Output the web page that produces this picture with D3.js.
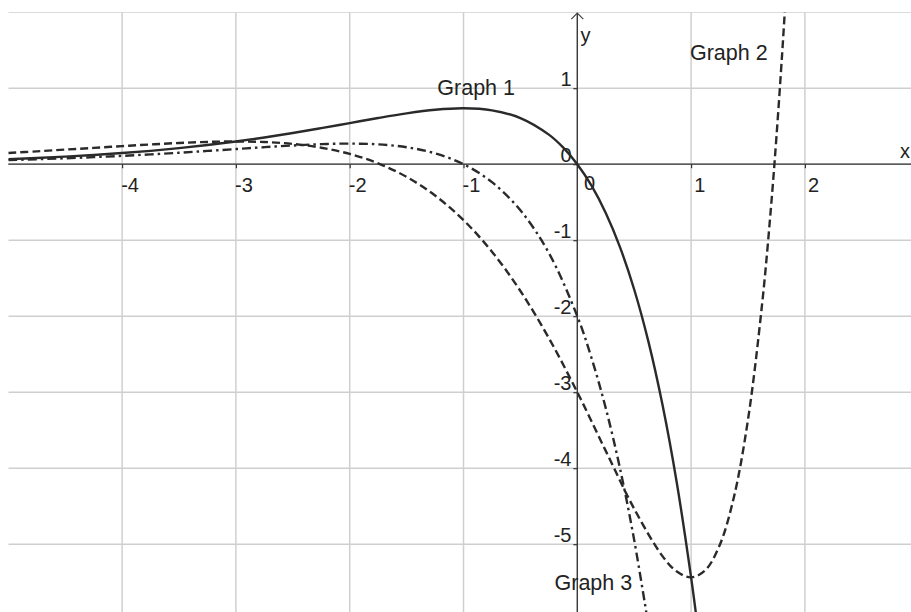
<!DOCTYPE html>
<html>
<head>
<meta charset="utf-8">
<script src="https://cdn.jsdelivr.net/npm/d3@7"></script>
<style>
  html, body { margin: 0; padding: 0; background: #fff; }
  svg { display: block; }
  text { font-family: "Liberation Sans", Arial, sans-serif; fill: #222; }
</style>
</head>
<body>
<svg id="chart" width="911" height="612"></svg>
<script>
// Sampled points of the three curves
const graph1X = [-5, -4.75, -4.5, -4.25, -4, -3.75, -3.5, -3.25, -3, -2.75, -2.5, -2.25, -2, -1.75, -1.5, -1.25, -1, -0.75, -0.5, -0.25, -0.125, 0, 0.125, 0.25, 0.375, 0.5, 0.625, 0.75, 0.875, 1, 1.05, 1.1];
const graph1Y = [0.067, 0.082, 0.100, 0.121, 0.147, 0.176, 0.211, 0.252, 0.299, 0.352, 0.410, 0.474, 0.541, 0.608, 0.669, 0.716, 0.736, 0.709, 0.607, 0.389, 0.221, 0, -0.283, -0.642, -1.091, -1.649, -2.335, -3.176, -4.198, -5.437, -6.001, -6.609];

const graph2X = [-5, -4.75, -4.5, -4.25, -4, -3.75, -3.5, -3.25, -3, -2.75, -2.5, -2.25, -2, -1.75, -1.5, -1.25, -1, -0.75, -0.5, -0.25, 0, 0.25, 0.5, 0.75, 0.875, 1, 1.125, 1.25, 1.375, 1.5, 1.625, 1.7, 1.75, 1.8, 1.825, 1.85];
const graph2Y = [0.148, 0.169, 0.192, 0.215, 0.238, 0.260, 0.279, 0.293, 0.299, 0.292, 0.267, 0.217, 0.135, 0.011, -0.167, -0.412, -0.736, -1.151, -1.668, -2.288, -3, -3.772, -4.534, -5.160, -5.360, -5.437, -5.342, -5.017, -4.388, -3.361, -1.825, -0.602, 0.360, 1.452, 2.051, 2.687];

const graph3X = [-5, -4.75, -4.5, -4.25, -4, -3.75, -3.5, -3.25, -3, -2.75, -2.5, -2.25, -2, -1.75, -1.5, -1.25, -1, -0.75, -0.5, -0.25, 0, 0.125, 0.25, 0.375, 0.5, 0.625];
const graph3Y = [0.054, 0.065, 0.078, 0.093, 0.110, 0.129, 0.151, 0.175, 0.199, 0.224, 0.246, 0.264, 0.271, 0.261, 0.223, 0.143, 0, -0.236, -0.607, -1.168, -2, -2.550, -3.210, -4.001, -4.946, -6.072];

// Axis tick values and curve labels
const xTickValues = [-4, -3, -2, -1, 0, 1, 2];
const yTickValues = [1, 0, -1, -2, -3, -4, -5];
const xGridValues = [-4, -3, -2, -1, 0, 1, 2];
const yGridValues = [2, 1, 0, -1, -2, -3, -4, -5];
const curveLabels = ["Graph 1", "Graph 2", "Graph 3"];
const curveLabelAt = [[-1.23, 0.91], [0.99, 1.37], [-0.2, -5.6]];

const W = 911, H = 612;
const svg = d3.select("#chart");

const x = d3.scaleLinear().domain([-5, 3]).range([8.3, 918.7]);
const y = d3.scaleLinear().domain([2, -6]).range([12.2, 620.2]);

const plotLeft = x(-5), plotTop = y(2);

svg.append("defs").append("clipPath").attr("id", "plotClip")
  .append("rect")
  .attr("x", plotLeft).attr("y", plotTop)
  .attr("width", W - plotLeft).attr("height", H - plotTop);

// grid
const grid = svg.append("g").attr("clip-path", "url(#plotClip)");
grid.selectAll("line.vx").data(xGridValues).join("line")
  .attr("x1", d => x(d)).attr("x2", d => x(d))
  .attr("y1", plotTop).attr("y2", H)
  .attr("stroke", "#cfcfcf").attr("stroke-width", 1.5);
grid.selectAll("line.hy").data(yGridValues).join("line")
  .attr("y1", d => y(d)).attr("y2", d => y(d))
  .attr("x1", plotLeft).attr("x2", W)
  .attr("stroke", "#cfcfcf").attr("stroke-width", 1.5);

// axes
const fmt = d => String(d);
const xAxis = svg.append("g")
  .attr("transform", `translate(0,${y(0)})`)
  .call(d3.axisBottom(x).tickValues(xTickValues).tickSize(4).tickSizeOuter(0).tickFormat(fmt));
const yAxis = svg.append("g")
  .attr("transform", `translate(${x(0)},0)`)
  .call(d3.axisLeft(y).tickValues(yTickValues).tickSize(4).tickSizeOuter(0).tickFormat(fmt));

[xAxis, yAxis].forEach(a => {
  a.attr("font-family", null).attr("font-size", null);
  a.select(".domain").attr("stroke", "#333").attr("stroke-width", 1.3);
  a.selectAll(".tick line").attr("stroke", "#333").attr("stroke-width", 1.2);
  a.selectAll(".tick text").style("font-size", "20px").attr("fill", "#222");
});
xAxis.select(".domain").attr("d", `M${plotLeft},0H${W}`);
yAxis.select(".domain").attr("d", `M0,${plotTop + 1}V${H}`);

xAxis.selectAll(".tick text")
  .attr("text-anchor", "start")
  .attr("dy", null)
  .attr("y", d => d === 0 ? 26 : 27.5)
  .attr("x", d => d < 0 ? -1.4 : (d === 0 ? 6.2 : 2.6));
yAxis.selectAll(".tick text")
  .attr("text-anchor", "end")
  .attr("dy", null)
  .attr("x", -5.8)
  .attr("y", d => d === 0 ? -3.2 : -2.3);

// arrow at the top of the y axis
svg.append("path")
  .attr("d", `M${x(0) - 6},${plotTop + 7}L${x(0)},${plotTop + 1}L${x(0) + 6},${plotTop + 7}`)
  .attr("fill", "none").attr("stroke", "#444").attr("stroke-width", 1.2);

// axis names
svg.append("text").attr("x", 900).attr("y", 158).style("font-size", "20px").text("x");
svg.append("text").attr("x", 580.5).attr("y", 41.5).style("font-size", "20px").text("y");

// curves
const curves = svg.append("g").attr("clip-path", "url(#plotClip)");
const line = d3.line().x(d => x(d[0])).y(d => y(d[1])).curve(d3.curveCatmullRom.alpha(0.5));
const series = [
  { xs: graph1X, ys: graph1Y, dash: null },
  { xs: graph2X, ys: graph2Y, dash: "8,4" },
  { xs: graph3X, ys: graph3Y, dash: "9,4,2.5,4" }
];
series.forEach(s => {
  curves.append("path")
    .datum(s.xs.map((v, i) => [v, s.ys[i]]))
    .attr("d", line)
    .attr("fill", "none")
    .attr("stroke", "#2a2a2a")
    .attr("stroke-width", 2.4)
    .attr("stroke-dasharray", s.dash);
});

// curve labels
svg.selectAll("text.curve-label").data(curveLabels).join("text")
  .attr("class", "curve-label")
  .attr("x", (d, i) => x(curveLabelAt[i][0]))
  .attr("y", (d, i) => y(curveLabelAt[i][1]))
  .style("font-size", "21.5px")
  .text(d => d);
</script>
</body>
</html>
